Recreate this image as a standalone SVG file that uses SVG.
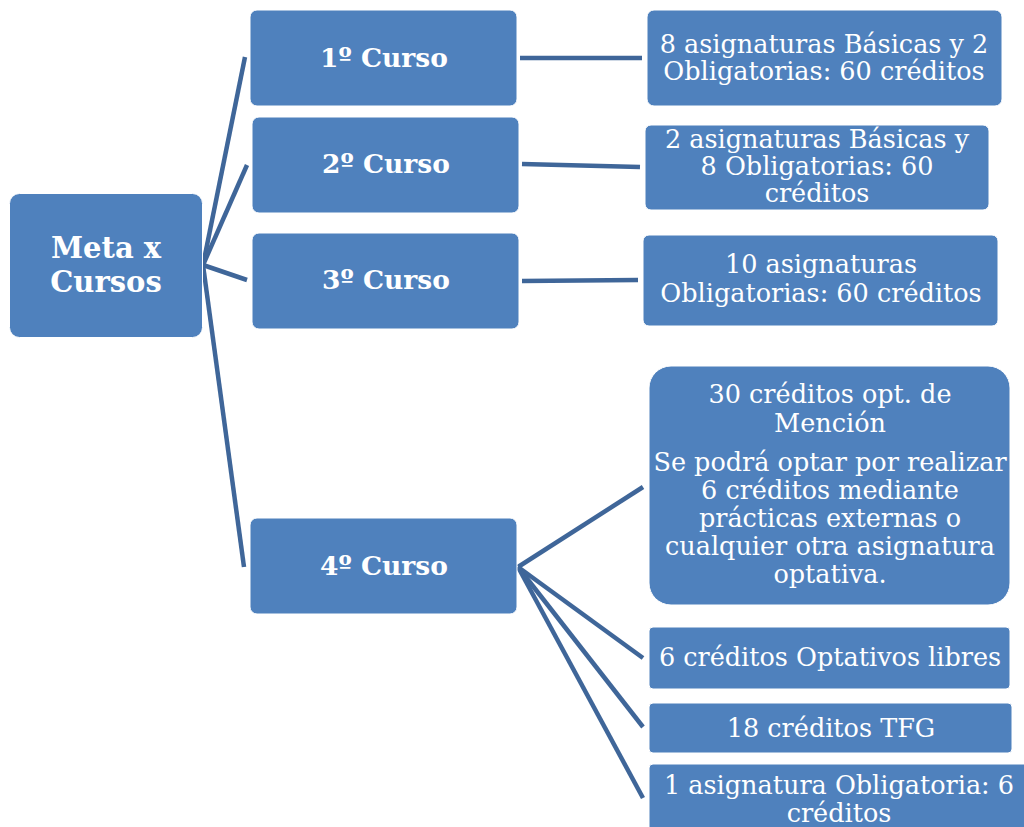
<svg xmlns="http://www.w3.org/2000/svg" width="1024" height="827" viewBox="0 0 1024 827">
<style>
.box{fill:#4f81bd;stroke:#ffffff;stroke-width:1}
.b{font-family:"DejaVu Serif","Liberation Serif",serif;font-weight:bold;font-size:26.5px;fill:#ffffff;text-anchor:middle}
.m{font-size:29px}
.t{font-family:"DejaVu Serif","Liberation Serif",serif;font-size:25.5px;fill:#ffffff;text-anchor:middle}
.c{stroke:#3f6699;stroke-width:4.5;fill:none;stroke-linecap:butt}
</style>
<rect width="1024" height="827" fill="#ffffff"/>
<g id="connectors">
<line class="c" x1="203" y1="265" x2="245" y2="57"/>
<line class="c" x1="203" y1="265" x2="247" y2="165"/>
<line class="c" x1="203" y1="265" x2="247" y2="280"/>
<line class="c" x1="203" y1="265" x2="244" y2="567"/>
<line class="c" x1="520" y1="58" x2="642" y2="58"/>
<line class="c" x1="522" y1="164" x2="640" y2="167"/>
<line class="c" x1="522" y1="281" x2="638" y2="280"/>
<line class="c" x1="518" y1="567" x2="643" y2="487"/>
<line class="c" x1="518" y1="567" x2="643" y2="658"/>
<line class="c" x1="518" y1="567" x2="643" y2="727"/>
<line class="c" x1="518" y1="567" x2="643" y2="798"/>
</g>
<g id="meta">
<rect class="box" x="9.5" y="193.5" width="193" height="144" rx="10"/>
<text class="b m" x="106" y="258">Meta x</text>
<text class="b m" x="106" y="292">Cursos</text>
</g>
<g id="curso1">
<rect class="box" x="250" y="10" width="267" height="96" rx="7"/>
<text class="b" x="384" y="67">1º Curso</text>
</g>
<g id="curso2">
<rect class="box" x="252" y="117" width="267" height="96" rx="7"/>
<text class="b" x="386" y="173">2º Curso</text>
</g>
<g id="curso3">
<rect class="box" x="252" y="233" width="267" height="96" rx="7"/>
<text class="b" x="386" y="289">3º Curso</text>
</g>
<g id="curso4">
<rect class="box" x="250" y="518" width="267" height="96" rx="7"/>
<text class="b" x="384" y="575">4º Curso</text>
</g>
<g id="r1">
<rect class="box" x="647" y="10" width="355" height="96" rx="7"/>
<text class="t" x="824" y="53">8 asignaturas Básicas y 2</text>
<text class="t" x="824" y="80">Obligatorias: 60 créditos</text>
</g>
<g id="r2">
<rect class="box" x="645" y="125" width="344" height="85" rx="6"/>
<text class="t" x="817" y="148">2 asignaturas Básicas y</text>
<text class="t" x="817" y="175">8 Obligatorias: 60</text>
<text class="t" x="817" y="202">créditos</text>
</g>
<g id="r3">
<rect class="box" x="643" y="235" width="355" height="91" rx="6"/>
<text class="t" x="821" y="273">10 asignaturas</text>
<text class="t" x="821" y="302">Obligatorias: 60 créditos</text>
</g>
<g id="r4">
<rect class="box" x="649" y="366" width="361" height="239" rx="22"/>
<text class="t" x="830" y="403">30 créditos opt. de</text>
<text class="t" x="830" y="432">Mención</text>
<text class="t" x="830" y="471">Se podrá optar por realizar</text>
<text class="t" x="830" y="499">6 créditos mediante</text>
<text class="t" x="830" y="527">prácticas externas o</text>
<text class="t" x="830" y="555">cualquier otra asignatura</text>
<text class="t" x="830" y="583">optativa.</text>
</g>
<g id="r5">
<rect class="box" x="649" y="627" width="361" height="62" rx="4"/>
<text class="t" x="830" y="666">6 créditos Optativos libres</text>
</g>
<g id="r6">
<rect class="box" x="649" y="703" width="363" height="50" rx="4"/>
<text class="t" x="831" y="737">18 créditos TFG</text>
</g>
<g id="r7">
<rect class="box" x="649" y="764" width="385" height="80" rx="4"/>
<text class="t" x="839" y="794">1 asignatura Obligatoria: 6</text>
<text class="t" x="839" y="822">créditos</text>
</g>
</svg>
